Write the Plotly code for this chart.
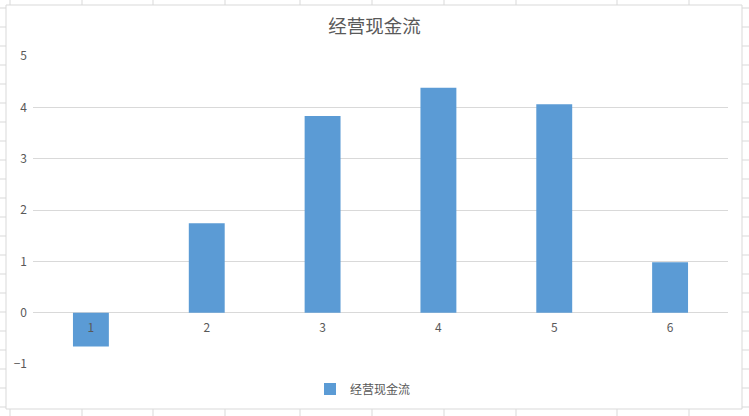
import plotly.graph_objects as go

categories = [1, 2, 3, 4, 5, 6]
values = [-0.66, 1.74, 3.83, 4.38, 4.06, 0.98]
series_name = "经营现金流"
y_ticks = [-1, 0, 1, 2, 3, 4, 5]

W, H = 749, 416
ML, MR, MT, MB = 33, 21, 56, 52
PW, PH = W - ML - MR, H - MT - MB

FONT = "Noto Sans CJK SC, Noto Sans, sans-serif"
TXT = "#595959"
GRID = "#D9D9D9"


def px(x):
    return (x - ML) / PW


def py(y):
    return (H - MB - y) / PH


shapes = []
# spreadsheet background lines outside chart area (decorative)
sheet_cols = [10, 82, 153, 225, 300, 372, 444, 516, 617, 689]
for cx in sheet_cols:
    shapes.append(dict(type="line", xref="paper", yref="paper", x0=px(cx), x1=px(cx),
                       y0=py(0), y1=py(5), line=dict(color=GRID, width=1), layer="below"))
    shapes.append(dict(type="line", xref="paper", yref="paper", x0=px(cx), x1=px(cx),
                       y0=py(409), y1=py(416), line=dict(color=GRID, width=1), layer="below"))
for k in range(22):
    ry = 8 + 19 * k
    shapes.append(dict(type="line", xref="paper", yref="paper", x0=px(0), x1=px(6),
                       y0=py(ry), y1=py(ry), line=dict(color=GRID, width=1), layer="below"))
    shapes.append(dict(type="line", xref="paper", yref="paper", x0=px(742), x1=px(749),
                       y0=py(ry), y1=py(ry), line=dict(color=GRID, width=1), layer="below"))
# chart area border
shapes.append(dict(type="rect", xref="paper", yref="paper", x0=px(6), x1=px(742),
                   y0=py(409), y1=py(5), line=dict(color=GRID, width=1),
                   fillcolor="rgba(0,0,0,0)", layer="below"))

fig = go.Figure()
fig.add_trace(go.Bar(
    x=categories, y=values, name=series_name,
    marker=dict(color="#5B9BD5", line=dict(width=0)),
    width=0.31,
))

fig.update_layout(
    width=W, height=H,
    margin=dict(l=ML, r=MR, t=MT, b=MB, autoexpand=False),
    paper_bgcolor="white", plot_bgcolor="white",
    font=dict(family=FONT, color=TXT, size=12),
    title=dict(text=series_name, x=0.5, xanchor="center", y=1 - 27 / H, yanchor="middle",
               font=dict(family=FONT, size=18.5, color=TXT)),
    showlegend=True,
    legend=dict(orientation="h", x=px(363), xanchor="center", y=py(389), yanchor="middle",
                font=dict(family=FONT, size=12, color=TXT), bgcolor="rgba(0,0,0,0)"),
    xaxis=dict(
        range=[0.5, 6.5], tickmode="array", tickvals=categories,
        ticktext=[str(c) for c in categories],
        showgrid=False, zeroline=False, showline=False, ticks="",
        anchor="free", position=(0 - y_ticks[0]) / (y_ticks[-1] - y_ticks[0]),
        tickfont=dict(family=FONT, size=12, color=TXT), ticklabelstandoff=6,
    ),
    yaxis=dict(
        range=[y_ticks[0], y_ticks[-1]], tickmode="array", tickvals=y_ticks,
        showgrid=True, gridcolor=GRID, gridwidth=1, zeroline=False, showline=False,
        ticks="", domain=[0, 1],
        tickfont=dict(family=FONT, size=12, color=TXT), ticklabelstandoff=5,
    ),
    shapes=shapes,
    bargap=0.69,
)

fig.write_html("out.html", config={"displayModeBar": False},
               post_script="document.body.style.margin='0';")
